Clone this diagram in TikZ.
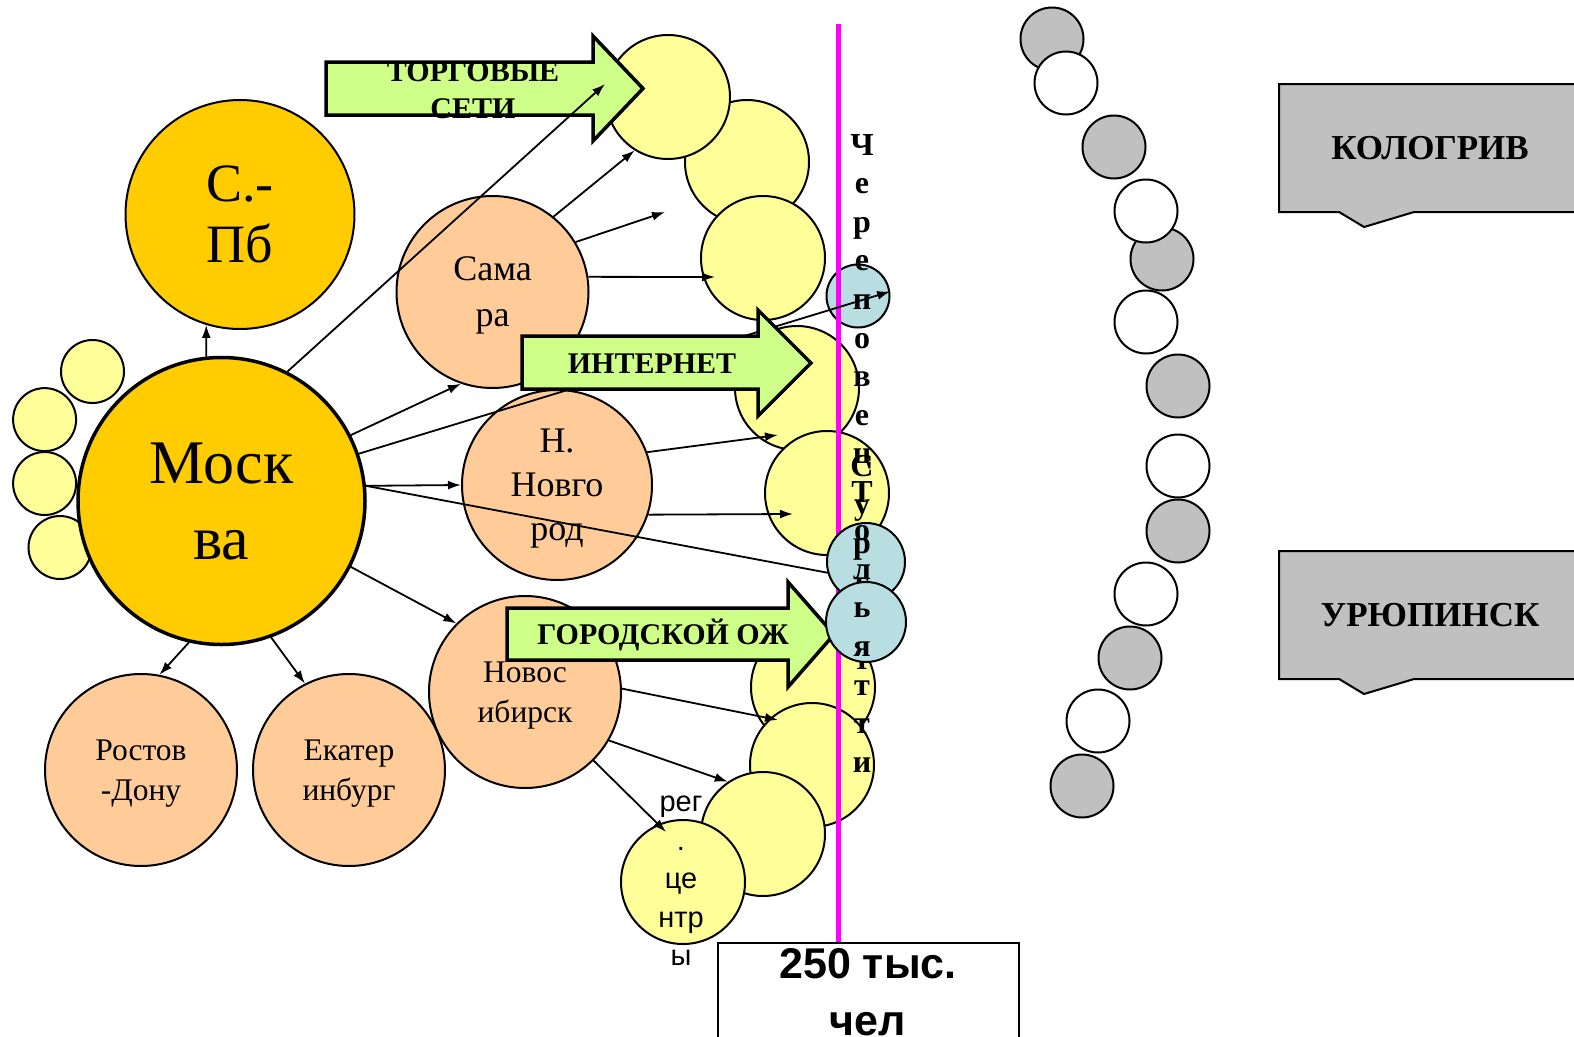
\documentclass[tikz,border=0pt]{standalone}
\usepackage{fontspec}
\setmainfont{Liberation Serif}
\newfontfamily\arialfont{Liberation Sans}
\usepackage{tikz}
\usetikzlibrary{arrows.meta,shapes.callouts}

\definecolor{gold}{RGB}{255,204,0}
\definecolor{peach}{RGB}{255,204,153}
\definecolor{lemon}{RGB}{255,255,153}
\definecolor{sky}{RGB}{185,222,226}
\definecolor{lime}{RGB}{206,255,136}
\definecolor{silver}{RGB}{192,192,192}
\definecolor{fuchsia}{RGB}{255,0,255}

\begin{document}
\begin{tikzpicture}[x=1pt,y=-1pt]
	\tikzstyle{big}=[circle,draw=black,fill=gold,line width=2pt,inner sep=0pt,align=center,text depth=0pt]
	\tikzstyle{city}=[circle,draw=black,fill=peach,line width=2pt,minimum size=192pt,inner sep=0pt,align=center,text depth=0pt,font=\fontsize{31.5}{40}\selectfont]
	\tikzstyle{town}=[circle,draw=black,fill=lemon,line width=2pt,minimum size=124pt,inner sep=0pt]
	\tikzstyle{ydot}=[circle,draw=black,fill=lemon,line width=2pt,minimum size=63pt,inner sep=0pt]
	\tikzstyle{bdot}=[circle,draw=black,fill=sky,line width=2pt,inner sep=0pt]
	\tikzstyle{gdot}=[circle,draw=black,fill=silver,line width=2pt,minimum size=63pt,inner sep=0pt]
	\tikzstyle{wdot}=[circle,draw=black,fill=white,line width=2pt,minimum size=63pt,inner sep=0pt]
	\tikzstyle{conn}=[line width=1.8pt,-{Latex[length=13pt,width=9pt]}]
	\tikzstyle{garrow}=[draw=black,fill=lime,line width=3.5pt]
	\tikzstyle{gtext}=[font=\bfseries\fontsize{30}{37}\selectfont,align=center,inner sep=0pt]
	\tikzstyle{vtext}=[font=\bfseries\fontsize{32}{38.6}\selectfont,align=center,inner sep=0pt,anchor=north]
	\tikzstyle{callbox}=[rectangle callout,draw=black,fill=silver,line width=2pt,minimum width=302pt,minimum height=128pt,callout pointer width=75pt,font=\bfseries\fontsize{35}{42}\selectfont]
	\tikzstyle{numbox}=[draw=black,fill=white,line width=2pt,anchor=north,minimum width=301pt,inner xsep=0pt,inner ysep=5pt,align=center,font=\arialfont\bfseries\fontsize{43}{57}\selectfont]
	\useasboundingbox (0,0) rectangle (1574,1036);
	% Moscow and the big cities
	\node[ydot] (s1) at (92.5,371.5) {};
	\node[ydot] (s2) at (44.6,419.6) {};
	\node[ydot] (s3) at (44.6,483.5) {};
	\node[ydot] (s4) at (60,547.5) {};
	\node[big,line width=3.5pt,minimum size=287pt,font=\fontsize{62}{76}\selectfont] (msk) at (221.5,501) {Моск\\ва};
	\node[big,minimum size=229pt,font=\fontsize{54}{61}\selectfont] (spb) at (240,214.5) {С.-\\Пб};
	\node[city,font=\fontsize{36}{46}\selectfont] (sam) at (492.5,292) {Сама\\ра};
	\node[city,minimum size=190pt,font=\fontsize{36}{44}\selectfont] (nn) at (557,485) {Н.\\Новго\\род};
	\node[city] (nsk) at (525,692) {Новос\\ибирск};
	\node[city] (rost) at (141,770) {Ростов\\-Дону};
	\node[city] (ekat) at (349,770) {Екатер\\инбург};
	% towns
	\node[town] (y2) at (747,162) {};
	\node[town] (y1) at (668,97) {};
	\node[town] (y4) at (797,388) {};
	\node[town] (y3) at (763,258) {};
	\node[town] (y5) at (827,493) {};
	\node[town] (y6) at (813,687) {};
	\node[town] (y7) at (812,765) {};
	\node[town] (y8) at (763,834) {};
	\node[town] (y9) at (683,882) {};
	\node[align=center,inner sep=0pt,font=\arialfont\fontsize{29}{38.5}\selectfont] (reg) at (681,881) {рег\\.\\це\\нтр\\ы};
	\node[bdot,minimum size=63pt] (cha) at (858,296) {};
	% 250 000 line
	\node[numbox] (box) at (868,942) {250 тыс.\\чел};
	\coordinate (mtop) at (838,24);
	\draw[line width=5pt,draw=fuchsia] (mtop) -- (mtop |- box.north);
	\draw[conn] (msk.19) -- (cha.8);
	% channels
	\draw[garrow] (326,62) -- (593,62) -- (593,36) -- (643,88.5) -- (593,141) -- (593,115) -- (326,115) -- cycle;
	\draw[garrow] (522,336) -- (758,336) -- (758,310) -- (811,363) -- (758,416) -- (758,389) -- (522,389) -- cycle;
	\draw[garrow] (507,608) -- (788,608) -- (788,582) -- (834,634.5) -- (788,687) -- (788,660) -- (507,660) -- cycle;
	\node[gtext] (trade) at (473,90.5) {ТОРГОВЫЕ\\СЕТИ};
	\node[gtext] (web) at (652,364) {ИНТЕРНЕТ};
	\node[gtext] (city) at (663,635) {ГОРОДСКОЙ ОЖ};
	% connectors
	\coordinate (tsend) at (605,84);
	\coordinate (e2) at (665,212);
	\coordinate (e3) at (715,277);
	\coordinate (e4) at (778,435);
	\coordinate (e5) at (793,514);
	\coordinate (e6) at (778,720);
	\coordinate (e8) at (666,832);
	\coordinate (bend) at (829,573);
	\draw[conn] (msk.96) -- (spb.253);
	\draw[conn] (msk.63) -- (tsend);
	\draw[conn] (msk.27) -- (sam.251);
	\draw[conn] (msk.6) -- (nn.180);
	\draw[line width=1.8pt] (msk.6) -- (bend);
	\draw[conn] (msk.333) -- (nsk.135);
	\draw[conn] (msk.257) -- (rost.79);
	\draw[conn] (msk.290) -- (ekat.117);
	\draw[conn] (sam.51) -- (y1.238);
	\draw[conn] (sam.31) -- (e2);
	\draw[conn] (sam.9) -- (e3);
	\draw[conn] (nn.20) -- (e4);
	\draw[conn] (nn.342) -- (e5);
	\draw[conn] (nsk.2) -- (e6);
	\draw[conn] (nsk.330) -- (y8.124);
	\draw[conn] (nsk.315) -- (e8);
	% resorts
	\node[bdot,minimum size=78pt] (chb) at (866,562) {};
	\node[vtext] (surg) at (862,455) {С\\у\\р\\г\\у\\т};
	\node[bdot,minimum size=80pt] (chc) at (866,622) {};
	\node[vtext] (cher) at (862,134) {Ч\\е\\р\\е\\п\\о\\в\\е\\ц};
	\node[vtext] (tol) at (862,481) {Т\\о\\л\\ь\\я\\т\\т\\и};
	% small towns
	\node[gdot] (g1) at (1052,39) {};
	\node[wdot] (w1) at (1066,83) {};
	\node[gdot] (g2) at (1114,147) {};
	\node[gdot] (g3) at (1162,259) {};
	\node[wdot] (w2) at (1146,211) {};
	\node[wdot] (w3) at (1146,322) {};
	\node[gdot] (g4) at (1178,386) {};
	\node[wdot] (w4) at (1178,466) {};
	\node[gdot] (g5) at (1178,531) {};
	\node[wdot] (w5) at (1146,594) {};
	\node[gdot] (g6) at (1130,658) {};
	\node[wdot] (w6) at (1098,721) {};
	\node[gdot] (g7) at (1082,786) {};
	\node[callbox,callout absolute pointer={(1364,227)}] (kol) at (1430,148) {КОЛОГРИВ};
	\node[callbox,callout absolute pointer={(1364,694)}] (uru) at (1430,615) {УРЮПИНСК};
\end{tikzpicture}
\end{document}
